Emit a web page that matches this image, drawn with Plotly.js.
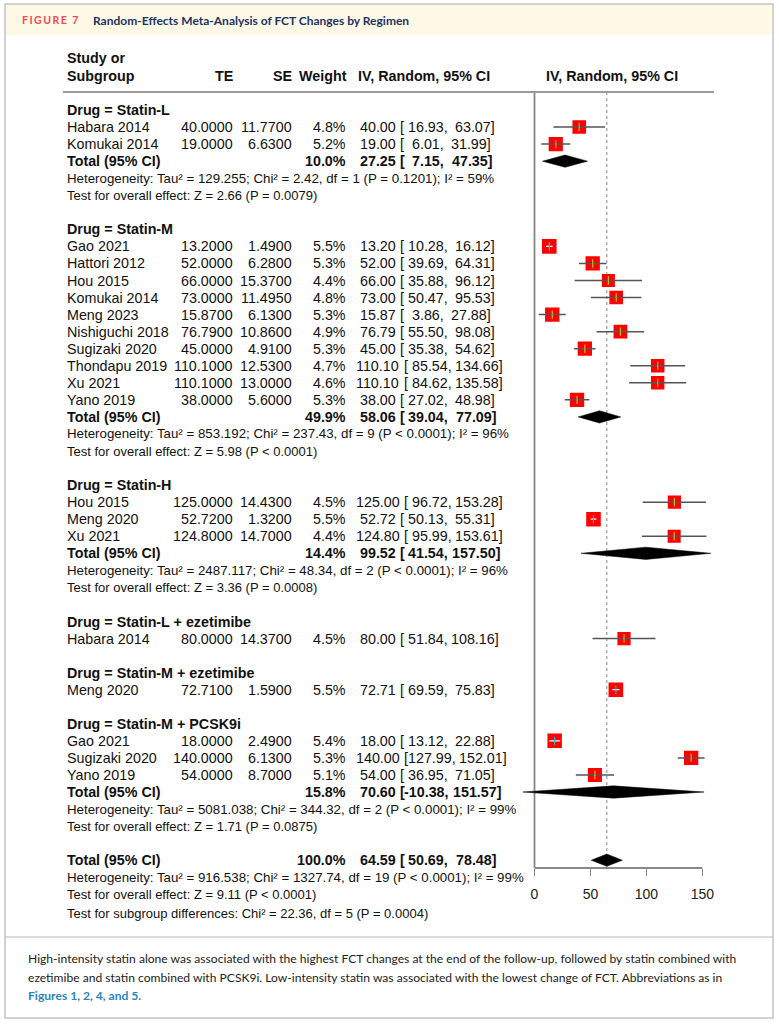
<!DOCTYPE html>
<html><head><meta charset="utf-8">
<script src="https://cdn.plot.ly/plotly-3.0.1.min.js"></script>
<style>html,body{margin:0;padding:0;background:#fff;}#chart{width:779px;height:1024px;}</style>
</head><body><div id="chart"></div>
<script>
// ---------------- DATA ----------------
const groupNames = ["Statin-L","Statin-M","Statin-H","Statin-L + ezetimibe","Statin-M + ezetimibe","Statin-M + PCSK9i"];
const groupSizes = [2,10,3,1,1,3];
const studies = ["Habara 2014","Komukai 2014",
  "Gao 2021","Hattori 2012","Hou 2015","Komukai 2014","Meng 2023","Nishiguchi 2018","Sugizaki 2020","Thondapu 2019","Xu 2021","Yano 2019",
  "Hou 2015","Meng 2020","Xu 2021",
  "Habara 2014",
  "Meng 2020",
  "Gao 2021","Sugizaki 2020","Yano 2019"];
const te = [40.0,19.0, 13.2,52.0,66.0,73.0,15.87,76.79,45.0,110.1,110.1,38.0, 125.0,52.72,124.8, 80.0, 72.71, 18.0,140.0,54.0];
const se = [11.77,6.63, 1.49,6.28,15.37,11.495,6.13,10.86,4.91,12.53,13.0,5.6, 14.43,1.32,14.7, 14.37, 1.59, 2.49,6.13,8.7];
const weight = [4.8,5.2, 5.5,5.3,4.4,4.8,5.3,4.9,5.3,4.7,4.6,5.3, 4.5,5.5,4.4, 4.5, 5.5, 5.4,5.3,5.1];
const lower = [16.93,6.01, 10.28,39.69,35.88,50.47,3.86,55.50,35.38,85.54,84.62,27.02, 96.72,50.13,95.99, 51.84, 69.59, 13.12,127.99,36.95];
const upper = [63.07,31.99, 16.12,64.31,96.12,95.53,27.88,98.08,54.62,134.66,135.58,48.98, 153.28,55.31,153.61, 108.16, 75.83, 22.88,152.01,71.05];

const groupWeight = [10.0,49.9,14.4,null,null,15.8];
const groupEst = [27.25,58.06,99.52,null,null,70.60];
const groupLower = [7.15,39.04,41.54,null,null,-10.38];
const groupUpper = [47.35,77.09,157.50,null,null,151.57];
const hetTau2 = ["129.255","853.192","2487.117",null,null,"5081.038"];
const hetChi2 = ["2.42","237.43","48.34",null,null,"344.32"];
const hetDf = [1,9,2,null,null,2];
const hetP = ["= 0.1201","< 0.0001","< 0.0001",null,null,"< 0.0001"];
const hetI2 = [59,96,96,null,null,99];
const testZ = ["2.66","5.98","3.36",null,null,"1.71"];
const testP = ["= 0.0079","< 0.0001","= 0.0008",null,null,"= 0.0875"];

const overallWeight = 100.0;
const overallEst = 64.59, overallLower = 50.69, overallUpper = 78.48;
const overallTau2 = "916.538", overallChi2 = "1327.74", overallDf = 19, overallP = "< 0.0001", overallI2 = 99;
const overallZ = "9.11", overallZP = "< 0.0001";
const subgroupChi2 = "22.36", subgroupDf = 5, subgroupP = "= 0.0004";
const xTicks = [0,50,100,150];

const captionLines = [
  "High-intensity statin alone was associated with the highest FCT changes at the end of the follow-up, followed by statin combined with",
  "ezetimibe and statin combined with PCSK9i. Low-intensity statin was associated with the lowest change of FCT. Abbreviations as in",
  "Figures 1, 2, 4, and 5."
];

// ---------------- LAYOUT HELPERS ----------------
const W = 779, H = 1024;
const ROW0 = 110, ROWH = 17.05;
const X0PX = 534.5, PXU = 1.119;
const xr = [-20, 170];
const xDomain = [(X0PX + xr[0]*PXU)/W, (X0PX + xr[1]*PXU)/W];
const kTop = -ROW0/ROWH, kBot = (H - ROW0)/ROWH;
const kOf = px => (px - ROW0)/ROWH;
const pY = py => 1 - py/H;
const pX = px => px/W;
const axisPx = 868;
const FONT = "Liberation Sans, Arial, Helvetica, sans-serif";
const CAPFONT = "Lato, Roboto, sans-serif";
const FS = 14.3;

const anns = [];
function txt(x, k, s, o = {}) {
  anns.push({xref:'paper', yref:o.yref||'y', x:x/W, y:k, text:s, showarrow:false,
    xanchor:o.a||'left', yanchor:'middle', borderpad:0,
    font:{family:o.f||FONT, size:o.s||FS, color:o.c||'#111', weight:o.w||'normal'}});
}
const B = {w:'bold'};
const C_NAME=66, C_TE=234, C_SE=293, C_W=347, C_CI=355;

// text width in Arial/Liberation metrics (em), used to lay out the padded CI column like R's fixed-field strings
const EMW = {'.':0.278, ',':0.278, '-':0.333, ' ':0.278};
const EMWB = {'[':0.333, ']':0.333};
function tw(s, bold) { let w = 0; for (const c of s) { w += (bold && EMWB[c]) ? EMWB[c] : (c in EMW ? EMW[c] : (c === '[' || c === ']' ? 0.278 : 0.556)); } return w*FS; }
function ci(r, e, l, u, w) {
  const bold = w === 'bold', sp = 0.278*FS;
  const es = e.toFixed(2), ls = l.toFixed(2), us = u.toFixed(2);
  let x = C_CI + (6 - es.length)*sp;
  txt(x, r, es, {w:w}); x += tw(es, bold) + sp;
  txt(x, r, "[", {w:w}); x += tw("[", bold) + (6 - ls.length)*sp;
  txt(x, r, ls + ",", {w:w}); x += tw(ls + ",", bold) + sp + (6 - us.length)*sp;
  txt(x, r, us + "]", {w:w});
}

// header
txt(C_NAME, kOf(58), "Study or", B);
txt(C_NAME, kOf(76), "Subgroup", B);
txt(C_TE, kOf(76), "TE", {a:'right', w:'bold'});
txt(C_SE, kOf(76), "SE", {a:'right', w:'bold'});
txt(C_W+1, kOf(76), "Weight", {a:'right', w:'bold'});
txt(357, kOf(76), "IV, Random, 95% CI", B);
txt(612, kOf(76), "IV, Random, 95% CI", {a:'center', w:'bold'});

// rows
const sqX=[], sqY=[], sqS=[];
const ciDarkX=[], ciDarkY=[], ciWhiteX=[], ciWhiteY=[];
const tkDX=[], tkDY=[], tkWX=[], tkWY=[];
const diamonds=[];
let k = 0, si = 0;
const hetText = (t,c,d,p,i) => "Heterogeneity: Tau\u00b2 = "+t+"; Chi\u00b2 = "+c+", df = "+d+" (P "+p+"); I\u00b2 = "+i+"%";
const HS = 13.3;
for (let g = 0; g < groupNames.length; g++) {
  txt(C_NAME, k, "Drug = " + groupNames[g], B);
  for (let j = 0; j < groupSizes[g]; j++, si++) {
    const r = k + 1 + j;
    txt(C_NAME, r, studies[si]);
    txt(C_TE, r, te[si].toFixed(4), {a:'right'});
    txt(C_SE, r, se[si].toFixed(4), {a:'right'});
    txt(C_W, r, weight[si].toFixed(1)+"%", {a:'right'});
    ci(r, te[si], lower[si], upper[si]);
    const side = 14.6*Math.sqrt(weight[si]/5.5);
    sqX.push(te[si]); sqY.push(r); sqS.push(side);
    const inside = (upper[si]-lower[si])*PXU < side - 0.5;
    if (inside) { ciWhiteX.push(lower[si], upper[si], null); ciWhiteY.push(r, r, null); tkWX.push(te[si]); tkWY.push(r); }
    else { ciDarkX.push(lower[si], upper[si], null); ciDarkY.push(r, r, null); tkDX.push(te[si]); tkDY.push(r); }
  }
  if (groupSizes[g] > 1) {
    const r = k + groupSizes[g] + 1;
    txt(C_NAME, r, "Total (95% CI)", B);
    txt(C_W, r, groupWeight[g].toFixed(1) + "%", {a:'right', w:'bold'});
    ci(r, groupEst[g], groupLower[g], groupUpper[g], 'bold');
    txt(C_NAME, r+1, hetText(hetTau2[g], hetChi2[g], hetDf[g], hetP[g], hetI2[g]), {s:HS});
    txt(C_NAME, r+2, "Test for overall effect: Z = " + testZ[g] + " (P " + testP[g] + ")", {s:13});
    diamonds.push([groupLower[g], groupEst[g], groupUpper[g], r]);
    k = r + 4;
  } else {
    k = k + groupSizes[g] + 2;
  }
}
// overall
txt(C_NAME, k, "Total (95% CI)", B);
txt(C_W, k, overallWeight.toFixed(1) + "%", {a:'right', w:'bold'});
ci(k, overallEst, overallLower, overallUpper, 'bold');
txt(C_NAME, k+1, hetText(overallTau2, overallChi2, overallDf, overallP, overallI2), {s:HS});
txt(C_NAME, k+2, "Test for overall effect: Z = " + overallZ + " (P " + overallZP + ")", {s:13});
txt(C_NAME, k+3.1, "Test for subgroup differences: Chi\u00b2 = " + subgroupChi2 + ", df = " + subgroupDf + " (P " + subgroupP + ")", {s:13});
diamonds.push([overallLower, overallEst, overallUpper, k]);

// title & caption (paper coords)
txt(27, pY(20), "FIGURE 7", {yref:'paper', s:10.5, c:'#ee4a55', f:CAPFONT, w:'bold'});
txt(92, pY(20), "Random-Effects Meta-Analysis of FCT Changes by Regimen", {yref:'paper', s:12, c:'#1d3461', f:CAPFONT, w:'bold'});
txt(27, pY(958), captionLines[0], {yref:'paper', s:12.1, c:'#222', f:CAPFONT});
txt(27, pY(977), captionLines[1], {yref:'paper', s:12.1, c:'#222', f:CAPFONT});
txt(27, pY(995), captionLines[2], {yref:'paper', s:12.1, c:'#2a86c0', f:CAPFONT, w:'bold'});

// traces
const DH = 0.36;
const traces = [];
diamonds.forEach(d => {
  traces.push({type:'scatter', mode:'lines', x:[d[0], d[1], d[2], d[1], d[0]], y:[d[3], d[3]-DH, d[3], d[3]+DH, d[3]],
    fill:'toself', fillcolor:'#000', line:{color:'#000', width:0.5}, hoverinfo:'skip'});
});
traces.push({type:'scatter', mode:'markers', x:sqX, y:sqY, marker:{symbol:'square', size:sqS, color:'#ff0000', opacity:1, line:{width:0}}, hoverinfo:'skip'});
traces.push({type:'scatter', mode:'lines', x:ciDarkX, y:ciDarkY, line:{color:'#555', width:1.5}, hoverinfo:'skip'});
traces.push({type:'scatter', mode:'lines', x:ciWhiteX, y:ciWhiteY, line:{color:'#fff', width:1.2}, hoverinfo:'skip'});
traces.push({type:'scatter', mode:'markers', x:tkDX, y:tkDY, marker:{symbol:'line-ns-open', size:6, opacity:1, line:{color:'#222', width:1.2}}, hoverinfo:'skip'});
traces.push({type:'scatter', mode:'markers', x:tkWX, y:tkWY, marker:{symbol:'line-ns-open', size:6, opacity:1, line:{color:'#fff', width:1.2}}, hoverinfo:'skip'});

const shapes = [
  {type:'rect', xref:'paper', yref:'paper', x0:pX(5), x1:pX(773), y0:pY(4), y1:pY(35), fillcolor:'#fef8e7', line:{width:0}, layer:'below'},
  {type:'rect', xref:'paper', yref:'paper', x0:pX(5), x1:pX(773), y0:pY(4), y1:pY(1018), line:{color:'#c4c4c4', width:1.5}, layer:'below'},
  {type:'line', xref:'paper', yref:'paper', x0:pX(5), x1:pX(773), y0:pY(937), y1:pY(937), line:{color:'#b8b8b8', width:1.2}, layer:'below'},
  {type:'line', xref:'paper', yref:'paper', x0:pX(63), x1:pX(714), y0:pY(92), y1:pY(92), line:{color:'#9a9a9a', width:1.8}},
  {type:'line', xref:'x', yref:'y', x0:0, x1:0, y0:kOf(92), y1:kOf(axisPx), line:{color:'#888', width:1.8}, layer:'below'},
  {type:'line', xref:'x', yref:'y', x0:overallEst, x1:overallEst, y0:kOf(92), y1:kOf(axisPx), line:{color:'#999', width:1.2, dash:'dot'}, layer:'below'},
  {type:'line', xref:'x', yref:'paper', x0:xTicks[0], x1:xTicks[xTicks.length-1], y0:pY(axisPx), y1:pY(axisPx), line:{color:'#888', width:1.8}}
];

const layout = {
  width:W, height:H, margin:{l:0,r:0,t:0,b:0,pad:0,autoexpand:false},
  paper_bgcolor:'#fff', plot_bgcolor:'rgba(0,0,0,0)', showlegend:false,
  xaxis:{domain:xDomain, range:xr, anchor:'free', position:pY(axisPx), showgrid:false, zeroline:false, showline:false,
    ticks:'outside', tickvals:xTicks, ticktext:xTicks.map(String), ticklen:7, tickwidth:1.5, tickcolor:'#888',
    tickfont:{family:FONT, size:14, color:'#222'}, ticklabelstandoff:6, fixedrange:true},
  yaxis:{domain:[0,1], range:[kBot, kTop], visible:false, fixedrange:true},
  shapes:shapes, annotations:anns, font:{family:FONT}
};
Plotly.newPlot('chart', traces, layout, {staticPlot:true, displayModeBar:false}).then(gd => {
  gd.querySelectorAll('.annotation-text').forEach(t => {
    if (t.textContent === 'FIGURE 7') t.style.letterSpacing = '1.5px';
  });
});
</script></body></html>
